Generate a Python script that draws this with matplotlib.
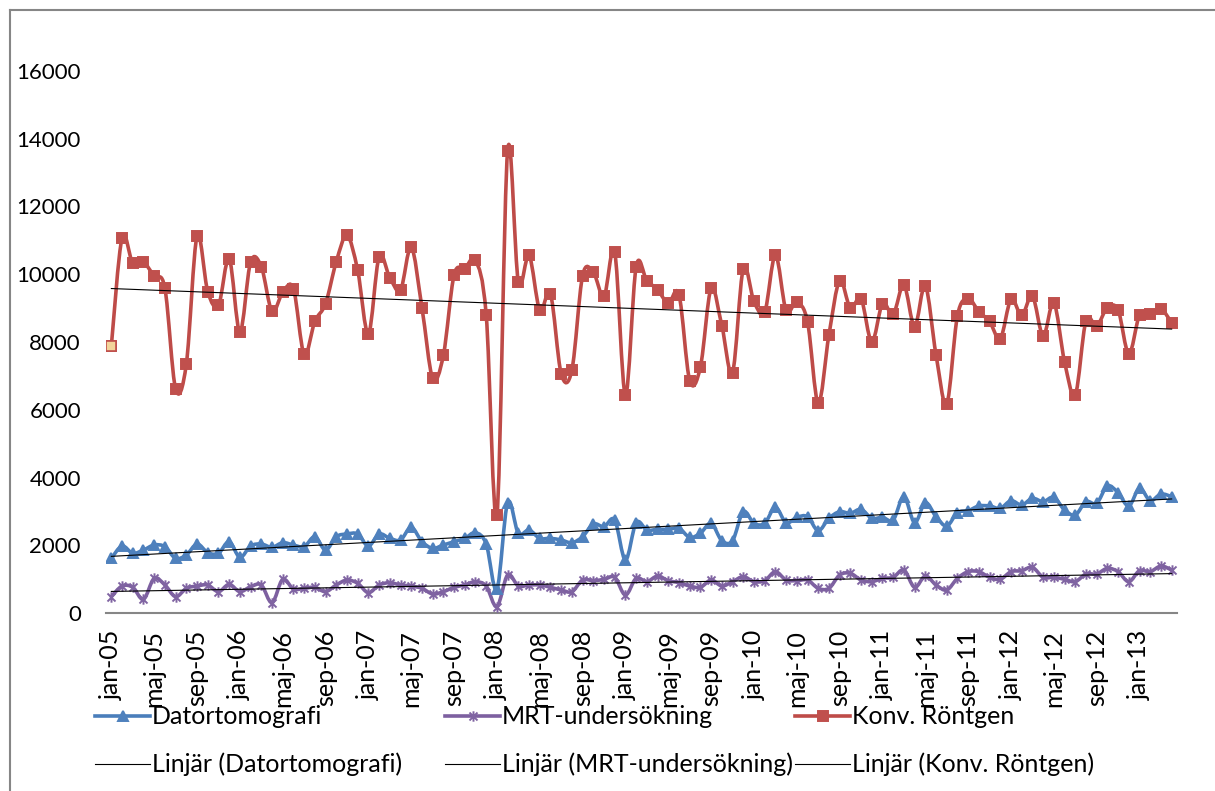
import numpy as np
import matplotlib
matplotlib.use("Agg")
import matplotlib.pyplot as plt
from matplotlib.path import Path
from matplotlib.patches import PathPatch
from matplotlib.lines import Line2D

plt.rcParams['font.family'] = ['Lato', 'DejaVu Sans']

# monthly values, jan-05 .. apr-13
ct = [1614, 1978, 1762, 1860, 2007, 1958, 1614, 1712, 2037, 1781, 1762, 2106,
      1644, 1978, 2037, 1939, 2076, 2007, 1958, 2253, 1860, 2253, 2332, 2332,
      1978, 2332, 2204, 2155, 2529, 2106, 1909, 2007, 2106, 2204, 2371, 2037,
      699, 3257, 2352, 2450, 2204, 2204, 2155, 2076, 2253, 2627, 2549, 2745,
      1565, 2667, 2450, 2470, 2470, 2500, 2234, 2352, 2647, 2135, 2135, 2991,
      2647, 2647, 3119, 2667, 2824, 2844, 2430, 2795, 2991, 2942, 3060, 2795,
      2824, 2745, 3434, 2667, 3257, 2844, 2568, 2962, 3021, 3159, 3159, 3090,
      3316, 3188, 3385, 3287, 3414, 3041, 2893, 3287, 3237, 3749, 3552, 3159,
      3680, 3316, 3513, 3434]
mrt = [482, 797, 758, 404, 1024, 827, 482, 728, 797, 827, 630, 846,
       630, 777, 827, 305, 994, 708, 728, 758, 630, 827, 974, 876,
       600, 827, 895, 827, 797, 728, 561, 630, 758, 827, 925, 797,
       187, 1122, 797, 827, 827, 758, 679, 630, 974, 955, 994, 1053,
       531, 1024, 925, 1092, 955, 895, 797, 758, 974, 797, 925, 1073,
       925, 955, 1220, 974, 955, 974, 728, 728, 1122, 1171, 974, 925,
       1024, 1053, 1269, 758, 1092, 827, 679, 1024, 1220, 1220, 1053, 994,
       1220, 1250, 1348, 1053, 1053, 994, 925, 1151, 1151, 1319, 1220, 925,
       1250, 1220, 1387, 1269]
konv = [7891, 11079, 10322, 10352, 9948, 9584, 6612, 7350, 11129, 9486, 9082, 10460,
        8295, 10361, 10224, 8905, 9466, 9575, 7636, 8610, 9131, 10371, 11149, 10115,
        8236, 10518, 9898, 9535, 10804, 9013, 6928, 7607, 9978, 10164, 10411, 8797,
        2893, 13648, 9771, 10559, 8945, 9417, 7065, 7173, 9958, 10057, 9348, 10647,
        6435, 10224, 9810, 9545, 9142, 9397, 6859, 7262, 9584, 8482, 7094, 10164,
        9200, 8876, 10568, 8935, 9171, 8600, 6190, 8207, 9810, 9004, 9278, 8000,
        9131, 8817, 9683, 8452, 9662, 7625, 6170, 8776, 9278, 8894, 8610, 8098,
        9260, 8788, 9358, 8177, 9160, 7418, 6435, 8629, 8472, 9013, 8945, 7646,
        8788, 8817, 8974, 8570]

months = ['jan', 'maj', 'sep']
tick_labels = ['%s-%02d' % (m, y) for y in range(5, 14) for m in months][:25]
series_names = ['Datortomografi', 'MRT-undersökning', 'Konv. Röntgen']

W, H = 1215, 791
fig = plt.figure(figsize=(W / 100, H / 100), dpi=100)
ax = fig.add_axes([106 / W, 178 / H, (1177 - 106) / W, 542 / H])

x = np.arange(len(konv))


def smooth_path(xs, ys):
    # Catmull-Rom through the points, as cubic Bezier segments
    p = np.column_stack([xs, ys]).astype(float)
    ext = np.vstack([p[0], p, p[-1]])
    verts = [p[0]]
    codes = [Path.MOVETO]
    for i in range(len(p) - 1):
        p0, p1, p2, p3 = ext[i], ext[i + 1], ext[i + 2], ext[i + 3]
        verts += [p1 + (p2 - p0) / 6, p2 - (p3 - p1) / 6, p2]
        codes += [Path.CURVE4] * 3
    return Path(verts, codes)


star = Path([(-1, -1), (1, 1), (-1, 1), (1, -1), (0, -1.3), (0, 1.3)],
            [Path.MOVETO, Path.LINETO] * 3)

styles = [
    (ct, '#4A7EBB', '#4F81BD', '^', 7.5),
    (mrt, '#7D60A0', '#8064A2', star, 7.5),
    (konv, '#BE4B48', '#C0504D', 's', 6.5),
]

handles = []
for vals, lc, mc, mk, ms in styles:
    ax.add_patch(PathPatch(smooth_path(x, vals), fill=False, edgecolor=lc,
                           lw=2.6, capstyle='round', joinstyle='round', zorder=2))
    ax.plot(x, vals, ls='none', marker=mk, ms=ms, color=mc, mec=mc,
            mew=1.4, zorder=3)
    handles.append(Line2D([], [], color=lc, lw=2.6, marker=mk, ms=ms,
                          mfc=mc, mec=mc, mew=1.4))

# first point of Konv. Röntgen is highlighted
ax.plot(x[0], konv[0], ls='none', marker='s', ms=6.5, mfc='#F2D49A',
        mec='#C0504D', mew=1.2, zorder=4)

# linear trend lines
for vals, _, _, _, _ in styles:
    k, m = np.polyfit(x, vals, 1)
    ax.plot(x, k * x + m, color='black', lw=0.8, zorder=4)

ax.set_xlim(-0.5, len(x) - 0.5)
ax.set_ylim(0, 16000)
ax.set_yticks(np.arange(0, 16001, 2000))
ax.set_yticklabels([str(v) for v in range(0, 16001, 2000)], fontsize=16)
ax.set_xticks(np.arange(0, len(x), 4))
ax.set_xticklabels(tick_labels, rotation=90, fontsize=18)
ax.tick_params(axis='y', length=0, pad=18)
ax.tick_params(axis='x', length=0, pad=12)
for s in ['top', 'right', 'left']:
    ax.spines[s].set_visible(False)
ax.spines['bottom'].set_color('#868686')
ax.spines['bottom'].set_linewidth(1.5)

# chart frame (left and top edges visible)
fig.add_artist(Line2D([10 / W, 10 / W], [0, 1 - 10 / H],
                      transform=fig.transFigure, color='#868686', lw=1.5))
fig.add_artist(Line2D([10 / W, 1], [1 - 10 / H, 1 - 10 / H],
                      transform=fig.transFigure, color='#868686', lw=1.5))

# legend, laid out like the original
col_x = [95, 445, 795]
for i, name in enumerate(series_names):
    y1 = 1 - 716 / H
    y2 = 1 - 764 / H
    h = handles[i]
    fig.add_artist(Line2D([col_x[i] / W, (col_x[i] + 55) / W], [y1, y1],
                          transform=fig.transFigure, color=h.get_color(), lw=2.6))
    fig.add_artist(Line2D([(col_x[i] + 27.5) / W], [y1], transform=fig.transFigure,
                          ls='none', marker=h.get_marker(), ms=h.get_markersize(),
                          mfc=h.get_markerfacecolor(), mec=h.get_markeredgecolor(),
                          mew=1.4))
    fig.text((col_x[i] + 57) / W, y1, name, fontsize=18, va='center', ha='left')
    fig.add_artist(Line2D([col_x[i] / W, (col_x[i] + 55) / W], [y2, y2],
                          transform=fig.transFigure, color='black', lw=0.8))
    fig.text((col_x[i] + 57) / W, y2, 'Linjär (%s)' % name, fontsize=18,
             va='center', ha='left')

fig.savefig('out.png', dpi=100)
